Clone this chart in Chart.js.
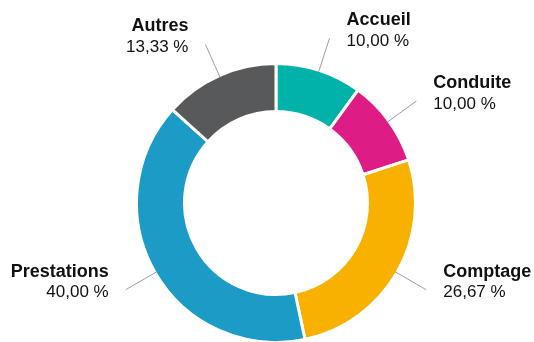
<!DOCTYPE html>
<html lang="fr">
<head>
<meta charset="UTF-8">
<title>Répartition</title>
<script src="https://cdn.jsdelivr.net/npm/chart.js"></script>
<style>
  html, body { margin: 0; padding: 0; background: #fff; overflow: hidden; }
  #wrap { width: 534px; height: 342px; overflow: hidden; }
</style>
</head>
<body>
<div id="wrap">
  <canvas id="pie" width="534" height="346"></canvas>
</div>
<script>
// Parts en pourcentage, dans le sens horaire depuis midi
const categories = ['Accueil', 'Conduite', 'Comptage', 'Prestations', 'Autres'];
const shares = [10.00, 10.00, 26.67, 40.00, 13.33];
const colors = ['#00b2aa', '#dd1c85', '#f9b100', '#1b9bc6', '#58595b'];

const fmt = v => v.toFixed(2).replace('.', ',') + ' %';

// Étiquettes extérieures avec trait de rappel
const calloutPlugin = {
  id: 'callouts',
  afterDraw(chart) {
    const ctx = chart.ctx;
    const meta = chart.getDatasetMeta(0);
    meta.data.forEach((arc, i) => {
      const p = arc.getProps(['x', 'y', 'startAngle', 'endAngle', 'outerRadius'], true);
      const mid = (p.startAngle + p.endAngle) / 2;
      const r0 = p.outerRadius - 2;
      const r1 = p.outerRadius + 34;
      const x0 = p.x + Math.cos(mid) * r0, y0 = p.y + Math.sin(mid) * r0;
      const x1 = p.x + Math.cos(mid) * r1, y1 = p.y + Math.sin(mid) * r1;

      ctx.save();
      ctx.strokeStyle = '#9c9cac';
      ctx.lineWidth = 1;
      ctx.beginPath();
      ctx.moveTo(x0, y0);
      ctx.lineTo(x1, y1);
      ctx.stroke();

      const right = Math.cos(mid) >= 0;
      const tx = right ? x1 + 17 : x1 - 17;
      const ty = y1 + 2;
      ctx.textAlign = right ? 'left' : 'right';
      ctx.textBaseline = 'middle';
      ctx.fillStyle = '#111';
      ctx.font = 'bold 18px "Liberation Sans", Arial, sans-serif';
      ctx.fillText(categories[i], tx, ty - 20);
      ctx.font = '17px "Liberation Sans", Arial, sans-serif';
      ctx.fillText(fmt(shares[i]), tx, ty + 1);
      ctx.restore();
    });
  }
};

new Chart(document.getElementById('pie'), {
  type: 'doughnut',
  data: {
    labels: categories,
    datasets: [{
      data: shares,
      backgroundColor: colors,
      borderColor: '#ffffff',
      borderWidth: 3,
      hoverOffset: 0
    }]
  },
  options: {
    responsive: false,
    animation: false,
    cutout: '65.6%',
    layout: { padding: { left: 135, right: 117, top: 62, bottom: 2 } },
    plugins: {
      legend: { display: false },
      tooltip: { enabled: false }
    }
  },
  plugins: [calloutPlugin]
});
</script>
</body>
</html>
